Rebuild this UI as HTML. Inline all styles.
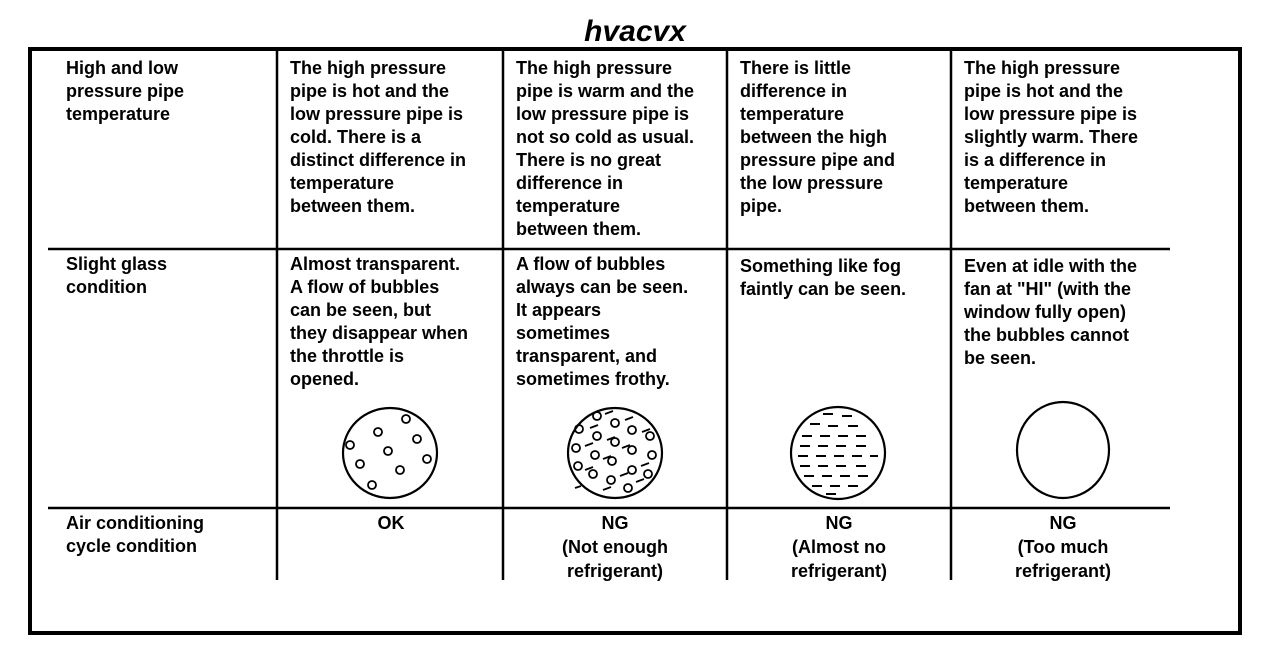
<!DOCTYPE html>
<html><head><meta charset="utf-8"><style>
html,body{margin:0;padding:0;background:#fff;}
svg{display:block;}
text{font-family:"Liberation Sans",Arial,sans-serif;font-size:18px;font-weight:bold;fill:#000;}
</style></head><body>
<svg width="1264" height="652" viewBox="0 0 1264 652">
<text x="635" y="41" text-anchor="middle" style="font-size:30px;font-weight:bold;font-style:italic">hvacvx</text>
<rect x="30" y="49" width="1210" height="584" fill="none" stroke="#000" stroke-width="4"/>
<g stroke="#000" stroke-width="2.5">
<line x1="277" y1="50" x2="277" y2="580"/>
<line x1="503" y1="50" x2="503" y2="580"/>
<line x1="727" y1="50" x2="727" y2="580"/>
<line x1="951" y1="50" x2="951" y2="580"/>
<line x1="48" y1="249" x2="1170" y2="249"/>
<line x1="48" y1="508" x2="1170" y2="508"/>
</g>
<g>
<text x="66" y="74">High and low</text><text x="66" y="97">pressure pipe</text><text x="66" y="120">temperature</text>
<text x="290" y="74">The high pressure</text><text x="290" y="97">pipe is hot and the</text><text x="290" y="120">low pressure pipe is</text><text x="290" y="143">cold. There is a</text><text x="290" y="166">distinct difference in</text><text x="290" y="189">temperature</text><text x="290" y="212">between them.</text>
<text x="516" y="74">The high pressure</text><text x="516" y="97">pipe is warm and the</text><text x="516" y="120">low pressure pipe is</text><text x="516" y="143">not so cold as usual.</text><text x="516" y="166">There is no great</text><text x="516" y="189">difference in</text><text x="516" y="212">temperature</text><text x="516" y="235">between them.</text>
<text x="740" y="74">There is little</text><text x="740" y="97">difference in</text><text x="740" y="120">temperature</text><text x="740" y="143">between the high</text><text x="740" y="166">pressure pipe and</text><text x="740" y="189">the low pressure</text><text x="740" y="212">pipe.</text>
<text x="964" y="74">The high pressure</text><text x="964" y="97">pipe is hot and the</text><text x="964" y="120">low pressure pipe is</text><text x="964" y="143">slightly warm. There</text><text x="964" y="166">is a difference in</text><text x="964" y="189">temperature</text><text x="964" y="212">between them.</text>
<text x="66" y="270">Slight glass</text><text x="66" y="293">condition</text>
<text x="290" y="270">Almost transparent.</text><text x="290" y="293">A flow of bubbles</text><text x="290" y="316">can be seen, but</text><text x="290" y="339">they disappear when</text><text x="290" y="362">the throttle is</text><text x="290" y="385">opened.</text>
<text x="516" y="270">A flow of bubbles</text><text x="516" y="293">always can be seen.</text><text x="516" y="316">It appears</text><text x="516" y="339">sometimes</text><text x="516" y="362">transparent, and</text><text x="516" y="385">sometimes frothy.</text>
<text x="740" y="272">Something like fog</text><text x="740" y="295">faintly can be seen.</text>
<text x="964" y="272">Even at idle with the</text><text x="964" y="295">fan at "HI" (with the</text><text x="964" y="318">window fully open)</text><text x="964" y="341">the bubbles cannot</text><text x="964" y="364">be seen.</text>
<text x="66" y="529">Air conditioning</text><text x="66" y="552">cycle condition</text>
<text x="391" y="529" text-anchor="middle">OK</text>
<text x="615" y="529" text-anchor="middle">NG</text><text x="615" y="553" text-anchor="middle">(Not enough</text><text x="615" y="577" text-anchor="middle">refrigerant)</text>
<text x="839" y="529" text-anchor="middle">NG</text><text x="839" y="553" text-anchor="middle">(Almost no</text><text x="839" y="577" text-anchor="middle">refrigerant)</text>
<text x="1063" y="529" text-anchor="middle">NG</text><text x="1063" y="553" text-anchor="middle">(Too much</text><text x="1063" y="577" text-anchor="middle">refrigerant)</text>
</g>
<g fill="none" stroke="#000" stroke-width="2.2">
<ellipse cx="390" cy="453" rx="47" ry="45"/>
<g stroke-width="1.8">
<circle cx="406" cy="419" r="4"/><circle cx="378" cy="432" r="4"/><circle cx="350" cy="445" r="4"/><circle cx="417" cy="439" r="4"/><circle cx="388" cy="451" r="4"/><circle cx="427" cy="459" r="4"/><circle cx="360" cy="464" r="4"/><circle cx="400" cy="470" r="4"/><circle cx="372" cy="485" r="4"/>
</g>
<ellipse cx="615" cy="453" rx="47" ry="45"/>
<g stroke-width="1.8">
<circle cx="597" cy="416" r="4"/><circle cx="615" cy="423" r="4"/><circle cx="632" cy="430" r="4"/><circle cx="579" cy="429" r="4"/><circle cx="597" cy="436" r="4"/><circle cx="615" cy="442" r="4"/><circle cx="650" cy="436" r="4"/><circle cx="576" cy="448" r="4"/><circle cx="595" cy="455" r="4"/><circle cx="632" cy="450" r="4"/><circle cx="652" cy="455" r="4"/><circle cx="612" cy="461" r="4"/><circle cx="578" cy="466" r="4"/><circle cx="632" cy="470" r="4"/><circle cx="593" cy="474" r="4"/><circle cx="611" cy="480" r="4"/><circle cx="648" cy="474" r="4"/><circle cx="628" cy="488" r="4"/>
<path d="M605 414l8-3M625 420l8-3M590 428l8-3M607 440l8-3M642 432l8-3M585 446l8-3M622 448l8-3M603 459l8-3M641 466l8-3M585 470l8-3M620 476l8-3M603 490l8-3M636 482l8-3M575 488l6-2"/>
</g>
<ellipse cx="838" cy="453" rx="47" ry="46"/>
<g stroke-width="2">
<path d="M823 414h10M842 416h10M810 424h10M828 426h10M848 426h10M802 436h10M820 436h10M838 436h10M856 436h10M800 446h10M818 446h10M836 446h10M856 446h10M798 456h10M816 456h10M834 456h10M852 456h10M870 456h8M800 466h10M818 466h10M836 466h10M856 466h10M804 476h10M822 476h10M840 476h10M858 476h10M812 486h10M830 486h10M848 486h10M826 494h10"/>
</g>
<ellipse cx="1063" cy="450" rx="46" ry="48"/>
</g>
</svg>
</body></html>
